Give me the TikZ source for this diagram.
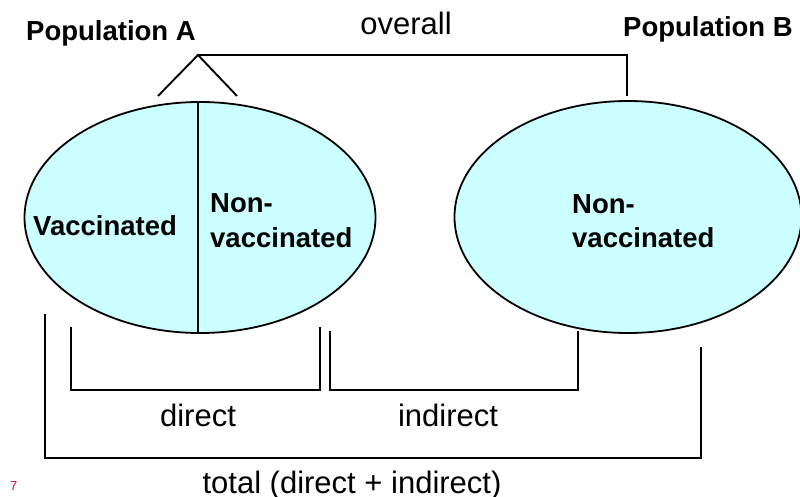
\documentclass[tikz,border=0pt]{standalone}
\usepackage{fontspec}
\setmainfont{Liberation Sans}
\usetikzlibrary{shapes.geometric}
\definecolor{popfill}{HTML}{CCFFFF}
\definecolor{pagenum}{HTML}{C0104C}
\tikzset{
  pop/.style={ellipse, draw=black, line width=1.8pt, fill=popfill, inner sep=0pt},
  boldlab/.style={font=\bfseries\fontsize{27.5}{33}\selectfont, inner sep=0pt},
  normlab/.style={font=\fontsize{31}{37}\selectfont, inner sep=0pt},
  link/.style={line width=1.9pt, line cap=butt, line join=miter}
}
\begin{document}
\begin{tikzpicture}[x=1pt,y=-1pt]
\useasboundingbox (0,0) rectangle (800,497);
% populations
\node[pop, minimum width=351pt, minimum height=231pt] (A) at (200,217.5) {};
\node[pop, minimum width=347pt, minimum height=232pt] (B) at (628,217) {};
\draw[line width=1.8pt] (198,102) -- (198,333);
% labels inside
\node[boldlab, anchor=base west] (vac) at (33,235) {Vaccinated};
\node[boldlab, anchor=base west] (nA1) at (210,212) {Non-};
\node[boldlab, anchor=base west] (nA2) at (210,247) {vaccinated};
\node[boldlab, anchor=base west] (nB1) at (572,213) {Non-};
\node[boldlab, anchor=base west] (nB2) at (572,247) {vaccinated};
% titles
\node[boldlab, anchor=base west] (popA) at (26,41) {Population A};
\node[boldlab, anchor=base west] (popB) at (623,37) {Population B};
\node[normlab, anchor=base] (overall) at (406,35) {overall};
% top connector
\coordinate (apex) at (198,55);
\coordinate (aL) at (158,96);
\coordinate (aR) at (237,96);
\coordinate (bTop) at (627,96);
\draw[link] (aL) -- (apex) -- (aR);
\draw[link] (apex) -| (bTop);
% direct bracket
\coordinate (d1) at (71,327);
\coordinate (d2) at (320,327);
\draw[link] (d1) |- (320,390) -- (d2);
% indirect bracket
\coordinate (i1) at (330,331);
\coordinate (i2) at (578,331);
\draw[link] (i1) |- (578,390) -- (i2);
% total bracket
\coordinate (t1) at (45,314);
\coordinate (t2) at (701,347);
\draw[link] (t1) |- (701,458) -- (t2);
% bottom labels
\node[normlab, anchor=base] (direct) at (198,426) {direct};
\node[normlab, anchor=base] (indirect) at (448,426) {indirect};
\node[normlab, anchor=base] (total) at (352,493) {total (direct + indirect)};
\node[font=\fontsize{13}{15}\selectfont, text=pagenum, anchor=base west, inner sep=0pt] (pg) at (10,490) {7};
\end{tikzpicture}
\end{document}
